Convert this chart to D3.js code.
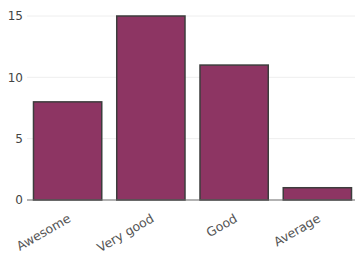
<!DOCTYPE html>
<html><head><meta charset="utf-8">
<script src="https://cdn.jsdelivr.net/npm/d3@7"></script>
<style>body{margin:0;background:#fff}svg{display:block}</style>
</head><body>
<svg id="c" width="355" height="255"></svg>
<script>
const categories = ["Awesome", "Very good", "Good", "Average"];
const values = [8, 15, 11, 1];
const yTicks = [0, 5, 10, 15];

const svg = d3.select("#c");
const x = d3.scaleBand().domain(categories).range([26, 359]).paddingInner(0.18).paddingOuter(0.09);
const y = d3.scaleLinear().domain([0, 15]).range([200, 16]);

// gridlines
svg.append("g").selectAll("line").data(yTicks.filter(d => d > 0)).join("line")
  .attr("x1", 27).attr("x2", 355)
  .attr("y1", d => y(d)).attr("y2", d => y(d))
  .attr("stroke", "#eee").attr("stroke-width", 1);

// bars
svg.append("g").selectAll("rect").data(values).join("rect")
  .attr("x", (d, i) => x(categories[i]))
  .attr("y", d => y(d))
  .attr("width", x.bandwidth())
  .attr("height", d => y(0) - y(d))
  .attr("fill", "#8d3563")
  .attr("stroke", "#3d3d3d").attr("stroke-width", 1.5);

// zero line
svg.append("line").attr("x1", 27).attr("x2", 355).attr("y1", y(0)).attr("y2", y(0))
  .attr("stroke", "#666").attr("stroke-width", 1);

// y tick labels
const yAxis = d3.axisLeft(y).tickValues(yTicks).tickSize(0).tickPadding(4);
const gy = svg.append("g").attr("transform", "translate(27,0)").call(yAxis);
gy.select(".domain").remove();
gy.selectAll("text").attr("font-family", "DejaVu Sans, Verdana, sans-serif").attr("font-size", 12).attr("fill", "#444");

// x tick labels
const xAxis = d3.axisBottom(x).tickSize(0).tickPadding(0);
const gx = svg.append("g").attr("transform", "translate(0,200)").call(xAxis);
gx.select(".domain").remove();
gx.selectAll("text")
  .attr("font-family", "DejaVu Sans, Verdana, sans-serif").attr("font-size", 12.5).attr("fill", "#555")
  .attr("text-anchor", "end").attr("dy", "0")
  .attr("transform", "translate(4,21) rotate(-30)");
</script>
</body></html>
